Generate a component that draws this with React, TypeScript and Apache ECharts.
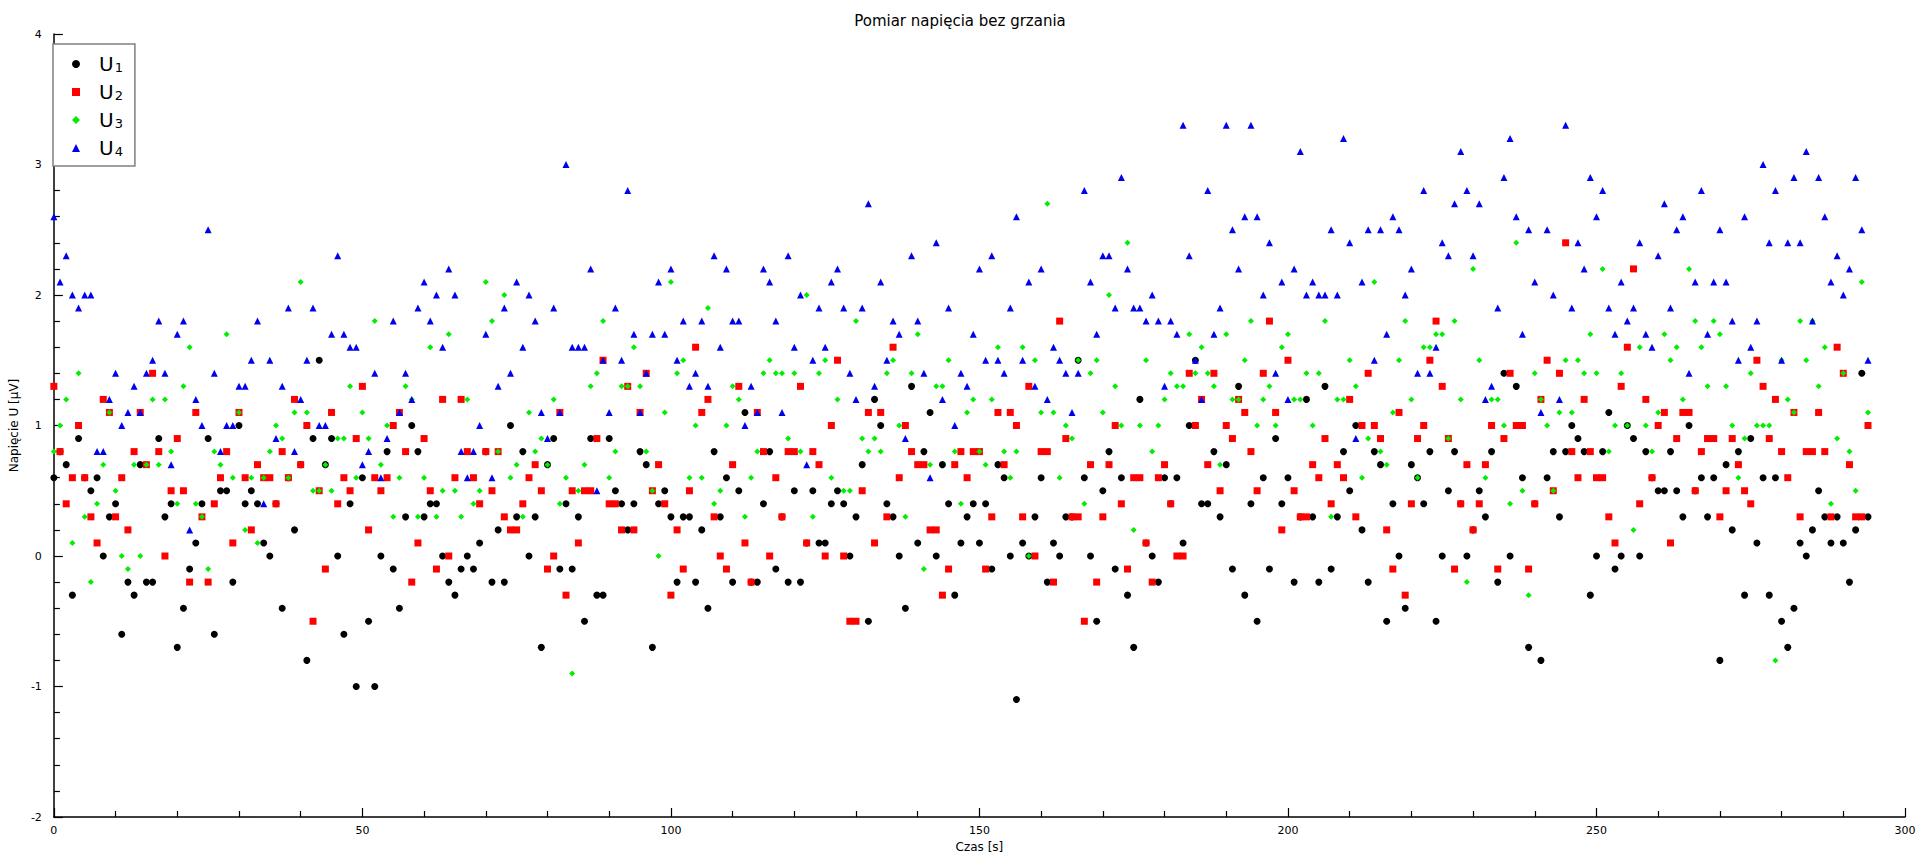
import { useEffect, useRef } from "react";
import * as echarts from "echarts";

// czas pomiaru: co 1 s, od 0 do 294
const u1 = [
  0.6, 0.8, 0.7, -0.3, 0.9, 0.6, 0.5, 0.6, 0.0, 0.3, 0.4, -0.6, -0.2, -0.3, 0.7, -0.2, -0.2, 0.9, 0.3, 0.4, -0.7, -0.4, -0.1, 0.1, 0.4, 0.9, -0.6, 0.5, 0.5, -0.2, 1.0, 0.4, 0.5, 0.4,
  0.1, 0.0, 0.4, -0.4, 0.6, 0.2, 0.7, -0.8, 0.9, 1.5, 0.7, 0.9, 0.0, -0.6, 0.4, -1.0, 0.6, -0.5, -1.0, 0.0, 0.8, -0.1, -0.4, 0.3, 1.0, 0.8, 0.3, 0.4, 0.4, 0.0, -0.2, -0.3, -0.1, 0.0,
  -0.1, 0.1, 0.8, -0.2, 0.2, -0.2, 1.0, 0.3, 0.8, 0.0, 0.3, -0.7, 0.7, 0.9, -0.1, 0.4, -0.1, 0.3, -0.5, 0.9, -0.3, -0.3, 0.9, 0.5, 0.4, 0.2, 0.4, 0.8, 0.7, -0.7, 0.4, 0.5, 0.3, -0.2,
  0.3, 0.3, -0.2, 0.2, -0.4, 0.8, 0.3, 0.6, -0.2, 0.5, 1.1, -0.2, -0.2, 0.4, 0.8, -0.1, 0.3, -0.2, 0.5, -0.2, 0.1, 0.5, 0.1, 0.1, 0.4, 0.5, 0.4, 0.0, 0.3, 0.7, -0.5, 1.2, 1.0, 0.4,
  0.3, 0.0, -0.4, 1.3, 0.1, 0.8, 1.1, 0.0, 0.7, 0.4, -0.3, 0.1, 0.3, 0.4, 0.1, 0.4, -0.1, 0.7, 0.6, 0.0, -1.1, 0.1, 0.0, 0.3, 0.6, -0.2, 0.1, 0.0, 0.3, 0.3, 1.5, 0.6, 0.0, -0.5,
  0.5, 0.8, -0.1, 0.6, -0.3, -0.7, 1.2, 0.1, 0.0, -0.2, 0.6, 0.4, 0.6, 0.1, 1.0, 1.5, 0.4, 0.4, 0.8, 0.3, 0.7, -0.1, 1.3, -0.3, 0.4, -0.5, 0.6, -0.1, 0.9, 0.4, 0.6, -0.2, 0.3, 1.2,
  0.3, -0.2, 1.3, -0.1, 0.3, 0.8, 0.5, 1.0, 0.2, -0.2, 0.8, 0.7, -0.5, 0.4, 0.0, -0.4, 0.7, 0.6, 0.4, 0.8, -0.5, 0.0, 0.5, 0.8, 0.4, 0.0, 0.2, 0.5, 0.3, 0.8, -0.2, 1.4, 0.0, 1.3,
  0.6, -0.7, 0.4, -0.8, 0.6, 0.8, 0.3, 0.8, 1.0, 0.9, 0.8, -0.3, 0.0, 0.8, 1.1, -0.1, 0.0, 1.0, 0.9, 0.0, 0.8, 0.6, 0.5, 0.5, 0.8, 0.5, 0.3, 1.0, 0.5, 0.6, 0.3, 0.6, -0.8,
  0.7, 0.2, 0.8, -0.3, 0.9, 0.1, 0.6, -0.3, 0.6, -0.5, -0.7, -0.4, 0.1, 0.0, 0.2, 0.5, 0.3, 0.1, 0.3, 0.1, -0.2, 0.2, 1.4, 0.3,
];

const u2 = [
  1.3, 0.8, 0.4, 0.6, 1.0, 0.6, 0.3, 0.1, 1.2, 1.1, 0.3, 0.6, 0.2, 0.8, 1.1, 0.7, 1.4, 0.8, 0.0, 0.5, 0.9, 0.5, -0.2, 1.1, 0.3, -0.2, 0.4, 0.6, 0.8, 0.1, 1.1, 0.6, 0.2, 0.7,
  0.6, 0.6, 0.4, 0.8, 0.6, 1.2, 0.7, 1.0, -0.5, 0.5, -0.1, 1.1, 0.4, 0.6, 0.5, 0.9, 1.3, 0.2, 0.6, 0.5, 0.6, 1.0, 1.1, 0.8, -0.2, 0.1, 0.9, 0.5, -0.1, 1.2, 0.0, 0.6, 1.2, 0.8,
  0.6, 0.4, 0.8, 0.5, 0.8, 0.3, 0.2, 0.2, 0.4, 0.6, 0.7, 0.5, -0.1, 0.0, 1.1, -0.3, 0.5, 0.1, 0.5, 0.5, 0.9, 1.5, 0.4, 0.4, 0.2, 1.3, 0.2, 1.1, 1.4, 0.5, 0.7, 0.4, -0.3, 0.2,
  -0.1, 0.5, 1.6, 1.1, 1.2, 0.3, 0.0, -0.1, 0.7, 1.3, 0.1, -0.2, 1.1, 0.8, 0.0, 0.6, 0.3, 0.8, 0.8, 1.3, 0.1, 0.8, 0.7, 0.0, 1.0, 1.5, 0.0, -0.5, -0.5, 0.5, 1.1, 0.1, 1.1, 0.3,
  1.6, 0.6, 1.0, 0.8, 0.7, 0.7, 0.2, 0.2, -0.3, -0.1, 0.7, 0.8, 0.6, 0.8, 0.8, -0.1, 0.3, 1.1, 0.7, 1.1, 1.0, 0.3, 1.3, 0.0, 0.8, 0.8, -0.2, 1.8, 0.9, 0.3, 0.3, -0.5, 0.7, -0.2,
  0.3, 0.7, 1.0, 0.4, -0.1, 0.6, 0.6, 0.1, -0.2, 0.6, 0.7, 0.4, 0.0, 0.0, 1.4, 1.0, 1.2, 0.7, 1.4, 0.5, 1.0, 0.9, 1.2, 1.1, 0.8, 0.5, 1.4, 1.8, 1.1, 0.2, 1.5, 0.5, 0.3, 0.3,
  0.7, 0.6, 0.9, 0.4, 0.7, 0.6, 1.2, 0.3, 1.0, 1.4, 1.0, 0.9, 0.2, -0.1, 1.1, -0.3, 0.4, 0.9, 1.0, 1.5, 1.8, 1.3, 0.9, -0.1, 0.4, 0.7, 0.2, 0.4, 0.7, 1.0, -0.1, 0.9, 1.4, 1.0,
  1.0, -0.1, 0.4, 1.2, 1.5, 0.5, 1.4, 2.4, 0.8, 0.6, 1.2, 0.8, 0.6, 0.6, 0.3, 0.1, 1.3, 1.6, 2.2, 0.4, 1.2, 0.6, 1.0, 1.1, 0.1, 0.9, 1.1, 1.1, 0.5, 0.8, 0.9, 0.9, 0.3,
  0.5, 0.9, 0.7, 0.5, 0.4, 1.5, 1.3, 0.9, 1.2, 0.8, 0.6, 1.1, 0.3, 0.8, 0.8, 1.1, 0.8, 0.3, 1.6, 1.4, 0.7, 0.3, 0.3, 1.0,
];

const u3 = [
  0.8, 1.0, 1.2, 0.1, 1.4, 0.3, -0.2, 0.4, 0.7, 1.1, 0.5, 0.0, -0.1, 0.7, 0.0, 0.7, 1.2, 0.7, 1.2, 0.8, 0.4, 1.3, 1.6, 0.4, 0.3, -0.1, 0.8, 0.7, 1.7, 0.6, 1.1, 0.2, 0.6, 0.1,
  0.6, 0.8, 1.0, 0.9, 0.6, 1.1, 2.1, 1.1, 0.5, 0.5, 0.7, 0.5, 0.9, 0.9, 1.3, 0.6, 1.1, 0.9, 1.8, 0.7, 1.0, 0.3, 0.6, 1.3, 1.2, 0.3, 0.6, 1.6, 0.3, 0.5, 1.7, 0.5, 0.3, 1.2,
  0.4, 0.5, 2.1, 1.8, 0.8, 2.0, 0.6, 0.7, 0.3, 1.1, 0.8, 0.9, 0.7, 1.2, 0.4, 0.6, -0.9, 0.5, 0.7, 1.3, 1.4, 1.8, 0.6, 0.8, 1.3, 1.3, 1.6, 1.3, 0.8, 0.5, 0.0, 1.1, 2.1, 1.4,
  1.5, 0.6, 1.0, 0.6, 1.9, 0.4, 0.5, 1.0, 1.3, 1.2, 0.3, 0.6, 0.8, 1.4, 1.5, 1.4, 1.4, 0.9, 1.4, 0.8, 2.0, 0.3, 1.4, 1.5, 0.6, 1.2, 0.5, 0.5, 1.8, 0.9, 0.8, 0.9, 0.8, 1.4,
  1.5, 1.0, 0.3, 1.4, 1.7, -0.1, 0.7, 1.3, 1.3, 1.5, 0.8, 0.4, 1.1, 1.2, 0.8, 0.7, 1.2, 1.6, 0.8, 0.6, 0.8, 1.6, 0.0, 1.5, 1.1, 2.7, 1.1, 0.6, 1.0, 0.9, 1.5, 0.4, 1.4, 1.5,
  1.1, 2.0, 1.3, 1.0, 2.4, 0.2, 1.0, 1.5, 0.8, 1.0, 1.2, 1.4, 1.3, 1.3, 1.7, 1.4, 1.6, 1.4, 1.3, 0.7, 1.7, 1.2, 1.2, 1.5, 1.8, 1.0, 1.2, 1.3, 1.0, 1.6, 1.7, 1.2, 1.2, 1.4,
  1.0, 1.4, 1.8, 0.3, 1.2, 1.2, 1.5, 1.3, 0.6, 0.9, 2.1, 0.8, 0.7, 1.1, 1.5, 1.8, 1.2, 0.6, 1.6, 1.6, 1.7, 1.7, 0.9, 1.8, 1.2, -0.2, 2.2, 1.5, 0.6, 1.2, 1.2, 1.0, 0.4, 2.4,
  0.5, -0.3, 1.4, 1.2, 1.0, 0.5, 1.1, 1.5, 1.1, 1.5, 1.4, 1.7, 1.4, 2.2, 0.8, 1.0, 1.4, 1.0, 0.2, 1.6, 1.0, 0.8, 1.1, 1.7, 1.5, 1.6, 1.2, 2.2, 1.8, 1.6, 1.3, 1.8, 1.7,
  1.3, 1.0, 0.6, 0.9, 1.4, 1.0, 1.0, 1.0, -0.8, 1.5, 1.2, 1.1, 1.8, 1.5, 1.8, 1.3, 1.6, 0.4, 0.9, 1.4, 0.8, 0.5, 2.1, 1.1,
];

const u4 = [
  2.6, 2.1, 2.3, 2.0, 1.9, 2.0, 2.0, 0.8, 0.8, 1.2, 1.4, 1.0, 1.1, 1.3, 1.1, 1.4, 1.5, 1.8, 1.4, 0.7, 1.7, 1.8, 0.2, 1.2, 1.0, 2.5, 1.4, 0.8, 1.0, 1.0, 1.3, 1.3, 1.5, 1.8,
  0.4, 1.5, 0.9, 1.3, 1.9, 0.8, 1.2, 1.5, 1.9, 1.0, 1.0, 1.7, 2.3, 1.7, 1.6, 1.6, 0.7, 0.8, 1.4, 0.6, 0.9, 1.8, 1.1, 1.4, 1.2, 1.9, 2.1, 1.8, 2.0, 1.6, 2.2, 2.0, 0.8, 0.6,
  0.8, 1.0, 1.7, 0.6, 1.3, 1.9, 1.4, 2.1, 1.6, 2.0, 1.8, 1.1, 0.9, 1.9, 1.1, 3.0, 1.6, 1.6, 1.6, 2.2, 0.5, 1.5, 1.1, 1.9, 1.5, 2.8, 1.7, 1.1, 1.4, 1.7, 2.1, 1.7, 2.2, 1.5,
  1.8, 1.3, 1.4, 1.8, 1.3, 2.3, 1.6, 2.2, 1.8, 1.8, 1.0, 1.3, 1.1, 2.2, 2.1, 1.8, 1.1, 2.3, 1.6, 2.0, 0.7, 1.5, 1.9, 1.6, 2.1, 2.2, 1.9, 1.4, 1.2, 1.9, 2.7, 1.3, 2.1, 1.5,
  1.8, 1.7, 0.9, 2.3, 1.8, 1.4, 0.6, 2.4, 1.2, 1.9, 1.0, 1.4, 1.3, 1.7, 2.2, 1.5, 2.3, 1.5, 1.4, 1.9, 2.6, 1.5, 2.1, 1.3, 2.2, 1.2, 1.6, 1.5, 1.4, 1.1, 1.4, 2.8, 2.1, 1.7,
  2.3, 2.3, 1.9, 2.9, 2.2, 1.9, 1.9, 1.8, 2.0, 1.8, 1.3, 1.8, 1.7, 3.3, 2.3, 1.5, 1.2, 2.8, 1.7, 1.9, 3.3, 2.5, 2.2, 2.6, 3.3, 2.6, 2.0, 2.4, 1.4, 2.1, 1.2, 2.2, 3.1, 2.0,
  2.1, 2.0, 2.0, 2.5, 2.0, 3.2, 2.4, 0.9, 2.1, 2.5, 1.5, 2.5, 1.7, 2.6, 2.5, 2.0, 2.2, 1.4, 2.8, 1.4, 1.6, 2.4, 2.3, 2.7, 3.1, 2.8, 2.3, 2.7, 1.2, 1.3, 1.9, 2.9, 3.2, 2.6,
  1.7, 2.5, 2.1, 1.1, 2.5, 2.0, 1.2, 3.3, 1.9, 2.4, 2.2, 2.9, 2.6, 2.8, 1.9, 1.7, 2.1, 1.8, 1.9, 2.4, 1.7, 1.6, 2.3, 2.7, 1.9, 2.5, 2.6, 1.4, 2.1, 2.8, 1.7, 2.1, 2.5,
  2.1, 1.8, 1.5, 2.6, 1.6, 1.8, 3.0, 2.4, 2.8, 1.5, 2.4, 2.9, 2.4, 3.1, 1.8, 2.9, 2.6, 2.1, 2.3, 2.0, 2.2, 2.9, 2.5, 1.5,
];

const seriesNames = ["U1", "U2", "U3", "U4"];
const xTicks = [0, 50, 100, 150, 200, 250, 300];
const yTicks = [-2, -1, 0, 1, 2, 3, 4];

const toPoints = (vals: number[]) => vals.map((v, i) => [i, v]);

const App = () => {
  const chartRef = useRef<HTMLDivElement>(null);

  useEffect(() => {
    if (!chartRef.current) return;
    const chart = echarts.init(chartRef.current, null, { renderer: "svg" });

    const font = "DejaVu Sans";
    const axisCommon = {
      axisLine: { show: true, onZero: false, lineStyle: { color: "#000", width: 1.5 } },
      axisTick: { show: true, inside: true, length: 9, lineStyle: { color: "#000", width: 1.2 } },
      minorTick: { show: true, splitNumber: 5, length: 6, lineStyle: { color: "#000", width: 1.2 } },
      splitLine: { show: false },
      axisLabel: { color: "#000", fontFamily: font, fontSize: 11 },
      nameTextStyle: { color: "#000", fontFamily: font, fontSize: 12 },
    };

    chart.setOption({
      animation: false,
      backgroundColor: "#fff",
      title: {
        text: "Pomiar napięcia bez grzania",
        left: "center",
        top: 8,
        textStyle: { fontFamily: font, fontSize: 15, fontWeight: "normal", color: "#000" },
      },
      legend: {
        orient: "vertical",
        left: 53,
        top: 44,
        data: seriesNames,
        backgroundColor: "#fff",
        borderColor: "#808080",
        borderWidth: 1.5,
        padding: [7, 12, 8, 19],
        itemGap: 5,
        itemWidth: 8,
        itemHeight: 8,
        formatter: (name: string) => `{u|U}{s|${name.slice(1)}}`,
        textStyle: {
          color: "#000",
          fontFamily: font,
          rich: {
            u: { fontSize: 20, lineHeight: 20, verticalAlign: "top", padding: [0, 0, 0, 14], fontFamily: font, color: "#000" },
            s: { fontSize: 13, lineHeight: 13, verticalAlign: "bottom", padding: [10, 0, 0, 1], fontFamily: font, color: "#000" },
          },
        },
      },
      grid: { left: 43, right: 15, top: 34, bottom: 44, containLabel: false },
      xAxis: {
        type: "value",
        min: xTicks[0],
        max: xTicks[xTicks.length - 1],
        interval: 50,
        name: "Czas [s]",
        nameLocation: "middle",
        nameGap: 22,
        ...axisCommon,
      },
      yAxis: {
        type: "value",
        min: yTicks[0],
        max: yTicks[yTicks.length - 1],
        interval: 1,
        name: "Napięcie U [μV]",
        nameLocation: "middle",
        nameGap: 26,
        ...axisCommon,
        axisLabel: { ...axisCommon.axisLabel, margin: 12 },
      },
      series: [
        { name: "U1", type: "scatter", data: toPoints(u1), symbol: "circle", symbolSize: 7, itemStyle: { color: "#000", opacity: 1 } },
        { name: "U2", type: "scatter", data: toPoints(u2), symbol: "rect", symbolSize: 7, itemStyle: { color: "#ff0000", opacity: 1 } },
        { name: "U3", type: "scatter", data: toPoints(u3), symbol: "diamond", symbolSize: 6, itemStyle: { color: "#00ee00", opacity: 1 } },
        { name: "U4", type: "scatter", data: toPoints(u4), symbol: "triangle", symbolSize: 7, itemStyle: { color: "#0000ee", opacity: 1 } },
      ],
    });

    return () => {
      chart.dispose();
    };
  }, []);

  return (
    <div
      ref={chartRef}
      style={{ position: "absolute", left: 0, top: 0, width: "1920px", height: "861px" }}
    />
  );
};

export default App;
